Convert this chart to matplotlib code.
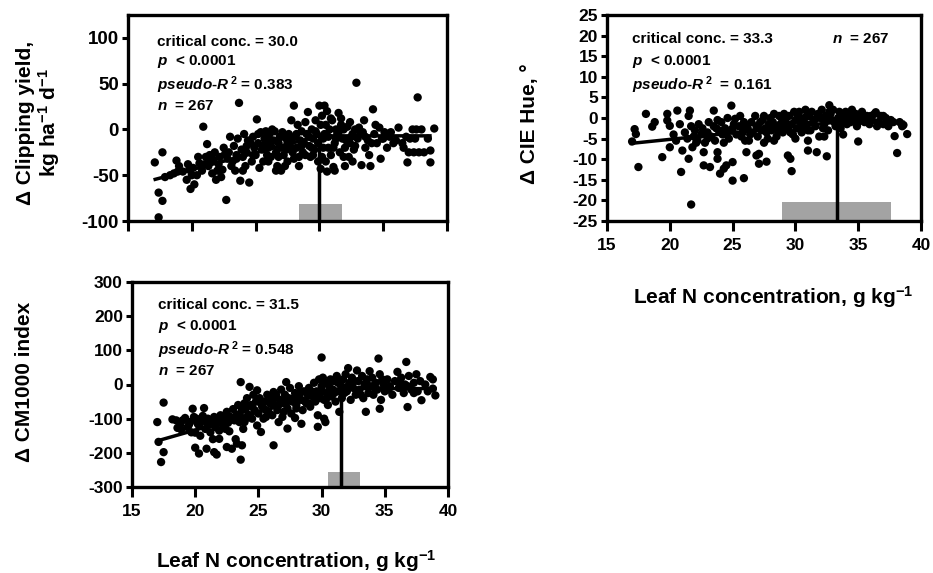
import numpy as np
import matplotlib
matplotlib.use("Agg")
import matplotlib.pyplot as plt

plt.rcParams['font.family'] = ['Liberation Sans', 'DejaVu Sans']
plt.rcParams['font.weight'] = 'bold'
plt.rcParams['axes.unicode_minus'] = False
plt.rcParams['mathtext.fontset'] = 'custom'
plt.rcParams['mathtext.rm'] = 'Liberation Sans:bold'
plt.rcParams['mathtext.it'] = 'Liberation Sans:bold:italic'
plt.rcParams['mathtext.bf'] = 'Liberation Sans:bold'

# ---------------- data ----------------
x_ticks = [15, 20, 25, 30, 35, 40]

# Panel A: Delta clipping yield
clip_pts = [
    (17.1,-36),(17.4,-69),(17.7,-78),(17.4,-96),(17.7,-25),(17.9,-52),
    (18.3,-50),(18.6,-48),(18.8,-34),(18.9,-46),
    (19.3,-46),(19.6,-55),(19.8,-44),(19.9,-65),(19.7,-38),
    (20.2,-60),(20.1,-42),(20.4,-50),(20.6,-37),(20.9,3),(20.8,-45),(20.5,-30),
    (21.2,-16),(21.1,-30),(21.3,-40),(21.5,-35),(21.6,-48),(21.8,-25),(21.9,-55),(21.4,-28),(21.7,-33),
    (22.1,-38),(22.2,-30),(22.4,-44),(22.5,-20),(22.7,-77),(22.8,-32),(22.9,-25),(22.3,-52),(22.6,-27),
    (23.0,-8),(23.2,-35),(23.3,-18),(23.5,-28),(23.7,29),(23.8,-56),(23.9,-22),(23.4,-45),(23.6,-10),(23.1,-40),
    (24.0,-30),(24.1,-5),(24.3,-25),(24.5,-58),(24.6,-15),(24.7,-35),(24.8,-8),(24.9,-20),(24.2,-40),(24.4,-12),
    (25.1,11),(25.0,-28),(25.2,-15),(25.4,-3),(25.5,-22),(25.6,-35),(25.7,-10),(25.8,-2),(25.9,-28),(25.3,-42),(25.6,-18),
    (26.0,-20),(26.1,-5),(26.2,-30),(26.4,-12),(26.5,-2),(26.6,-25),(26.7,-40),(26.8,-15),(26.9,-8),(26.3,0),(26.6,-45),
    (27.0,-20),(27.1,-3),(27.2,-28),(27.4,-10),(27.5,-35),(27.6,-5),(27.7,-18),(27.8,10),(27.9,-25),(27.3,-40),(27.5,-15),
    (28.0,26),(28.1,-8),(28.2,-20),(28.3,5),(28.4,-30),(28.5,-12),(28.6,-2),(28.7,-25),(28.8,-15),(28.9,8),(28.4,-40),
    (29.1,19),(29.0,-5),(29.2,-18),(29.3,-30),(29.4,0),(29.5,-10),(29.6,-22),(29.7,10),(29.8,-5),(29.9,-35),(29.5,-28),
    (30.0,26),(30.4,26),(30.1,-43),(30.6,-46),(30.2,15),(30.3,-10),(30.5,5),(30.7,-20),(30.8,0),(30.9,-28),(30.2,-30),(30.6,20),(30.4,-5),
    (31.1,-41),(31.0,10),(31.2,-15),(31.3,0),(31.5,18),(31.6,-25),(31.7,5),(31.8,-10),(31.9,-30),(31.4,-5),(31.7,12),
    (32.0,-20),(32.2,3),(32.3,-30),(32.5,-8),(32.6,-35),(32.8,0),(32.9,51),(32.4,-15),(32.7,-22),
    (33.0,-10),(33.3,-39),(33.2,-5),(33.5,10),(33.6,-20),(33.8,-12),(33.9,-28),(33.4,-3),
    (34.0,-40),(34.2,22),(34.3,-5),(34.5,-15),(34.8,-32),(34.7,2),(34.9,-10),
    (35.1,-3),(35.3,-20),(35.5,-8),(35.8,-15),
    (36.2,2),(36.5,-15),(36.9,-36),(36.8,-8),(36.6,-20),
    (37.0,-25),(37.3,0),(37.4,-25),(37.7,35),(37.6,0),(37.8,-25),(37.5,-10),(38.0,0),(38.2,-25),
    (38.7,-23),(38.7,-36),(39.0,1),(38.5,-10),
    (24.3,-18),(24.8,-28),(25.2,-5),(25.9,-12),(26.2,-18),(26.8,-30),(27.0,-8),(27.4,-22),
    (27.8,-12),(28.2,-5),(28.6,-18),(28.9,-28),(29.2,-8),(29.4,-20),(29.7,-2),(29.9,-15),
    (30.1,5),(30.3,-20),(30.5,-35),(30.7,-8),(30.9,12),(31.1,-20),(31.3,-10),(31.5,-3),
    (31.9,0),(32.1,-12),(32.4,8),(32.6,-5),(32.8,-18),(33.1,2),(33.6,-8),(34.1,-15),
    (34.4,5),(35.0,-10),(35.6,-3),(36.0,-12),(37.1,-10),(22.0,-45),(21.0,-38),(23.5,-32),
    (24.0,-45),(26.0,-35),(27.0,-45),(28.0,-32),(31.2,-45),(32.0,-40),(20.0,-50),(19.0,-40),
]
clip_fit_x = [17.0, 30.0, 38.8]
clip_fit_y = [-55, -7, -7]
clip_crit = 30.0
clip_ci = [28.4, 31.8]
clip_ci_top = -81

# Panel B: Delta CIE hue
hue_pts = [
    (17.0,-5.7),(17.2,-2.7),(17.3,-3.9),(17.5,-11.9),(18.1,1.0),(18.6,-2.1),(18.8,-1.0),
    (19.4,-9.5),(19.8,1.0),(19.8,-0.6),(20.0,-1.9),(20.0,-7.1),(20.6,1.8),(20.8,-1.5),
    (20.9,-13.1),(21.0,-7.9),(21.5,-9.9),(21.6,1.8),(21.7,-21.0),(21.8,-7.1),(22.7,-8.3),
    (22.7,-11.5),(23.2,-11.9),(23.5,1.8),(23.8,-8.3),(23.8,-9.9),(24.0,-13.5),(24.3,-12.3),
    (24.5,-11.5),(24.9,3.0),(25.0,-10.7),(25.0,-15.2),(25.2,-0.2),(25.9,-14.6),(26.0,-5.5),
    (26.1,-8.3),(26.9,-9.1),(27.1,-11.1),(27.1,-8.7),(27.7,-10.6),(29.4,-9.1),(29.6,-9.9),
    (29.7,-12.9),(31.0,-7.9),(31.7,-8.3),(32.5,-9.3),(32.7,3.1),(35.0,-5.7),(37.9,-4.4),
    (38.1,-8.5),(38.9,-3.9),(38.6,-1.7),(36.4,1.4),
    (20.3,-4),(20.5,-5.5),(21.2,-3.5),(21.4,-5),(21.7,-2),(21.9,-4.5),(21.5,0.5),
    (22.0,-3),(22.2,-5.5),(22.3,-1.5),(22.5,-4),(22.6,-2.5),(22.8,-6),(23.0,-3.5),(23.1,-1),
    (23.3,-4.5),(23.5,-2),(23.6,-5.5),(23.8,-0.5),(23.9,-3),
    (24.1,-1),(24.2,-4),(24.4,-2.5),(24.6,0),(24.7,-5),(24.9,-3),(25.1,-1.5),(25.3,-4),
    (25.5,-2),(25.6,0.5),(25.8,-3.5),(25.9,-1),
    (26.2,-2.5),(26.3,-5.5),(26.5,-1),(26.6,-3.5),(26.8,0.5),(26.9,-2),(27.0,-4.5),(27.2,-1),
    (27.3,-3),(27.5,0.5),(27.6,-2.5),(27.8,-5),(27.9,-1.5),
    (28.0,0),(28.1,-3),(28.3,1),(28.4,-2),(28.5,-4.5),(28.7,0.5),(28.8,-1.5),(29.0,-3.5),
    (29.1,1),(29.2,-0.5),(29.4,-2.5),(29.5,0.5),(29.7,-1.5),(29.8,-4),(29.9,1.5),
    (30.0,-0.5),(30.1,-2.5),(30.3,1.5),(30.4,-1),(30.5,-3.5),(30.7,0),(30.8,2),(30.9,-1.5),
    (31.1,0.5),(31.2,-3),(31.3,1.5),(31.5,-0.5),(31.6,-2),(31.8,1),(31.9,-4.5),
    (32.0,0),(32.1,2),(32.3,-1.5),(32.4,0.5),(32.6,-3),(32.8,1),(32.9,-0.5),(33.0,2),
    (33.2,-2),(33.4,0),(33.5,1.5),(33.7,-1),(33.9,0.5),(33.8,-4),
    (34.0,1.5),(34.1,-1.5),(34.3,0.5),(34.5,2),(34.6,-0.5),(34.8,1),(34.9,-2),(35.1,0),
    (35.3,1.5),(35.5,-1),(35.7,0.5),(35.9,-1.5),
    (36.1,-0.5),(36.3,1),(36.6,-1),(36.8,0.5),(37.0,-1.5),(37.2,0),(37.4,-2),(37.6,-0.5),(37.8,-1),
    (38.3,-1),(38.5,-2),
    (27.0,-2),(27.4,-0.5),(27.7,-3.5),(28.2,-1),(28.6,-3),(28.9,0),(29.3,-2),(29.6,-3.5),
    (30.2,0.5),(30.6,-2),(30.9,0.5),(31.0,-3),(31.4,-1),(31.7,0),(32.2,-2.5),(32.5,-0.5),
    (32.7,1.5),(33.1,-1),(33.6,-2.5),(34.2,0),(34.4,-1),(34.7,0.5),(35.0,-1),(35.4,0.5),
    (36.0,0.5),(36.5,-2),(37.0,0.5),(37.5,-1),(26.0,-2),(25.7,-4.5),(25.0,-2.5),(24.5,-3.5),
    (23.7,-2.5),(23.0,-5),(22.1,-6),(24.3,-6),(26.4,-4),(27.5,-6),(28.3,-5.5),(30.0,-5),
    (31.0,-5.5),(32.3,-4.5),
]
hue_fit_x = [16.8, 33.3, 38.7]
hue_fit_y = [-6.2, -1.0, -1.0]
hue_crit = 33.3
hue_ci = [28.9, 37.6]
hue_ci_top = -20.5

# Panel C: Delta CM1000 index
cm_pts = [
    (17.0,-110),(17.1,-168),(17.3,-227),(17.5,-198),(17.5,-53),(18.2,-102),(18.6,-127),
    (19.0,-105),(19.8,-71),(20.0,-141),(20.0,-185),(20.3,-202),(20.7,-69),(20.9,-188),
    (21.1,-118),(21.5,-198),(21.7,-205),(21.9,-159),(22.1,-105),(22.5,-183),(22.7,-137),
    (22.9,-188),(23.3,-173),(23.6,7),(23.6,-220),(23.7,-178),(24.3,-7),(24.9,-17),
    (25.2,-139),(26.2,-178),(26.2,-22),(27.2,7),(27.3,-129),(27.9,-98),(28.4,-115),
    (29.7,-124),(30.0,79),(30.3,-110),(32.1,48),(32.8,41),(33.5,-80),(33.8,39),(34.5,76),
    (34.6,-71),(36.0,37),(36.7,66),(36.8,-66),(37.9,-46),(38.6,22),(39.0,-32),(38.8,-12),
    (18.5,-105),(18.8,-118),(19.2,-98),(19.4,-125),(19.6,-110),(19.9,-95),(19.7,-140),(18.9,-132),
    (20.1,-100),(20.3,-120),(20.5,-108),(20.6,-92),(20.8,-130),(21.0,-100),(21.2,-140),(21.3,-112),
    (21.5,-95),(21.6,-125),(21.8,-105),(21.9,-135),(21.4,-160),(20.4,-150),
    (22.0,-90),(22.2,-118),(22.3,-100),(22.5,-80),(22.6,-112),(22.8,-95),(23.0,-72),(23.1,-105),
    (23.3,-88),(23.4,-60),(23.6,-95),(23.7,-75),(23.9,-110),(23.2,-160),(23.9,-55),
    (24.0,-70),(24.1,-40),(24.2,-88),(24.4,-60),(24.5,-100),(24.6,-30),(24.7,-75),(24.8,-50),
    (25.0,-85),(25.1,-40),(25.3,-65),(25.4,-100),(25.5,-50),(25.7,-30),(25.8,-80),(25.9,-55),(24.9,-120),
    (26.0,-45),(26.1,-90),(26.3,-60),(26.4,-30),(26.5,-75),(26.7,-45),(26.8,-15),(26.9,-95),
    (27.0,-55),(27.1,-30),(27.3,-70),(27.4,-40),(27.5,-10),(27.6,-85),(27.7,-50),(27.9,-25),(26.6,-110),
    (28.0,-60),(28.1,-35),(28.2,-5),(28.4,-45),(28.5,-75),(28.6,-20),(28.7,-50),(28.9,-30),
    (29.0,-10),(29.1,-65),(29.3,-35),(29.4,5),(29.5,-50),(29.6,-20),(29.8,15),(29.9,-40),(29.7,-90),
    (30.0,-15),(30.1,20),(30.2,-45),(30.3,5),(30.4,-25),(30.5,-60),(30.6,-5),(30.7,15),(30.8,-35),
    (30.9,-15),(31.0,10),(31.1,-50),(31.2,25),(31.3,-20),(31.5,0),(31.6,-40),(31.7,15),(31.8,-10),
    (31.9,30),(31.4,-80),(30.2,-100),
    (32.0,-20),(32.2,5),(32.3,-45),(32.4,20),(32.5,-10),(32.7,-30),(32.9,10),(33.0,-15),(33.2,25),
    (33.3,-40),(33.4,0),(33.6,15),(33.7,-25),(33.9,-5),
    (34.0,20),(34.1,-30),(34.3,5),(34.4,-15),(34.6,30),(34.7,-45),(34.9,0),(35.0,-20),(35.2,15),
    (35.4,-5),(35.6,-30),(35.8,10),
    (36.1,-10),(36.3,20),(36.5,-25),(36.6,0),(36.9,25),(37.1,-15),(37.3,5),(37.5,30),(37.6,-20),(37.8,10),
    (38.2,0),(38.4,-20),(38.8,15),
    (24.5,-65),(25.2,-55),(25.6,-75),(26.2,-40),(26.6,-60),(27.2,-45),(27.8,-40),(28.3,-25),
    (28.8,-55),(29.2,-20),(29.6,-40),(30.0,-5),(30.4,-40),(30.7,-20),(31.0,-25),(31.3,5),
    (31.8,-25),(32.1,-5),(32.6,10),(33.1,-30),(33.5,5),(34.2,-10),(34.8,15),(35.3,-15),
    (36.2,5),(36.8,-5),(37.3,-25),(22.7,-100),(23.5,-110),(21.7,-115),(20.9,-110),(20.2,-115),
    (19.5,-118),(24.0,-100),(25.6,-95),(27.0,-80),(28.0,-70),(29.0,-55),(22.4,-130),(23.8,-130),
]
cm_fit_x = [17.0, 31.5, 39.1]
cm_fit_y = [-165, -12, -12]
cm_crit = 31.5
cm_ci = [30.5, 33.0]
cm_ci_top = -256

# ---------------- figure ----------------
W, H = 933, 573
fig = plt.figure(figsize=(W/100, H/100), dpi=100)

def px_axes(l, t, r, b):
    return fig.add_axes([l/W, 1-b/H, (r-l)/W, (b-t)/H])

axA = px_axes(128, 15, 447, 221)
axB = px_axes(607, 15, 921, 221)
axC = px_axes(132, 282, 448, 487)

gray = '#a3a3a3'

def panel(ax, pts, fit_x, fit_y, crit, ci, ci_top, ylim, yticks, show_xlabels, texts, tsize):
    pts = np.array(pts)
    ax.set_xlim(15, 40)
    ax.set_ylim(*ylim)
    ax.bar(ci[0], ci_top - ylim[0], width=ci[1]-ci[0], bottom=ylim[0], align='edge',
           color=gray, edgecolor='none', zorder=1)
    ax.scatter(pts[:, 0], pts[:, 1], s=36, color='black', edgecolors='none', zorder=2)
    ax.plot(fit_x, fit_y, color='black', lw=2.5, zorder=3, solid_capstyle='butt')
    ax.plot([crit, crit], [ylim[0], fit_y[1]], color='black', lw=2.5, zorder=3)
    ax.set_xticks(x_ticks)
    ax.set_yticks(yticks)
    if not show_xlabels:
        ax.set_xticklabels([])
    for s in ax.spines.values():
        s.set_linewidth(2.4)
    ax.tick_params(axis='x', direction='out', length=7, width=2.2, labelsize=tsize, pad=5)
    ax.tick_params(axis='y', direction='out', length=4.5, width=2.2, labelsize=tsize, pad=2)
    for lab in ax.get_xticklabels() + ax.get_yticklabels():
        lab.set_fontweight('bold')
    for (tx, ty, s) in texts:
        ax.text(tx, ty, s, transform=ax.transAxes, fontsize=11, fontweight='bold',
                ha='left', va='center')

panel(axA, clip_pts, clip_fit_x, clip_fit_y, clip_crit, clip_ci, clip_ci_top,
      (-100, 125), [-100, -50, 0, 50, 100], False,
      [(0.091, 0.869, 'critical conc. = 30.0'),
       (0.091, 0.772, r'$p$  < 0.0001'),
       (0.091, 0.660, r'$pseudo$-$R^{\,2}$ = 0.383'),
       (0.091, 0.558, r'$n$  = 267')], 13.5)

panel(axB, hue_pts, hue_fit_x, hue_fit_y, hue_crit, hue_ci, hue_ci_top,
      (-25, 25), list(range(-25, 30, 5)), True,
      [(0.080, 0.883, 'critical conc. = 33.3'),
       (0.080, 0.772, r'$p$  < 0.0001'),
       (0.080, 0.660, r'$pseudo$-$R^{\,2}$  = 0.161'),
       (0.717, 0.883, r'$n$  = 267')], 12.5)

panel(axC, cm_pts, cm_fit_x, cm_fit_y, cm_crit, cm_ci, cm_ci_top,
      (-300, 300), list(range(-300, 301, 100)), True,
      [(0.082, 0.888, 'critical conc. = 31.5'),
       (0.082, 0.785, r'$p$  < 0.0001'),
       (0.082, 0.668, r'$pseudo$-$R^{\,2}$ = 0.548'),
       (0.082, 0.566, r'$n$  = 267')], 12.5)

# axis labels
fig.text(39/W, 1-123/H, 'Δ Clipping yield,\n' + r'kg ha$^{-1}$ d$^{-1}$', rotation=90,
         ha='center', va='center', fontsize=15, fontweight='bold', linespacing=1.05,
         multialignment='center')
fig.text(530/W, 1-124/H, 'Δ CIE Hue, °', rotation=90, ha='center', va='center',
         fontsize=15, fontweight='bold')
fig.text(25/W, 1-382/H, 'Δ CM1000 index', rotation=90, ha='center', va='center',
         fontsize=15, fontweight='bold')
fig.text(773/W, 1-297/H, r'Leaf N concentration, g kg$^{-1}$', ha='center', va='center',
         fontsize=15, fontweight='bold')
fig.text(296/W, 1-561/H, r'Leaf N concentration, g kg$^{-1}$', ha='center', va='center',
         fontsize=15, fontweight='bold')

fig.savefig('out.png', dpi=100)
